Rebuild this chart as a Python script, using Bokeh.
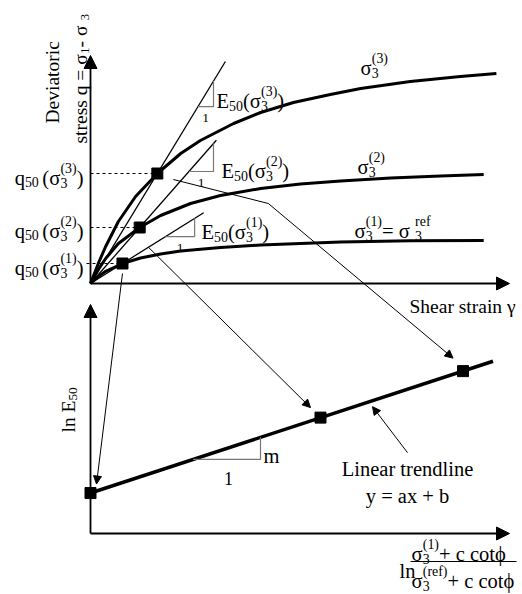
import math
import numpy as np
from bokeh.plotting import figure
from bokeh.models import Range1d, ColumnDataSource, Arrow, NormalHead
from bokeh.core.properties import value, field
from bokeh.embed import file_html
from bokeh.resources import INLINE

# ---------------- data: upper panel (shear strain γ vs deviatoric stress q) ----------------
gamma_s3_3 = [0, 0.20, 0.37, 0.68, 1.10, 1.63, 2.20, 2.68, 3.49, 4.15, 4.95, 5.85, 6.59, 7.80, 9.02, 9.90]
q_s3_3 = [0, 10.5, 18.5, 31.0, 43.5, 55.0, 65.0, 71.5, 80.0, 85.5, 90.5, 94.5, 97.5, 101.0, 103.5, 105.0]
gamma_s3_2 = [0, 0.20, 0.37, 0.68, 1.20, 1.71, 2.44, 3.17, 4.15, 5.12, 6.10, 7.32, 8.54, 9.59]
q_s3_2 = [0, 7.3, 12.5, 20.0, 28.0, 34.0, 40.0, 44.0, 47.5, 49.75, 51.25, 52.75, 53.75, 54.5]
gamma_s3_1 = [0, 0.20, 0.37, 0.78, 1.22, 1.71, 2.20, 3.17, 4.15, 6.10, 7.80, 9.59]
q_s3_1 = [0, 3.65, 6.1, 10.0, 12.75, 14.75, 16.25, 18.0, 19.25, 20.75, 21.35, 21.5]
gamma_50 = [0.78, 1.20, 1.63]          # strain at 50 % of failure, σ3(1), σ3(2), σ3(3)
q_50 = [10.0, 28.0, 55.0]              # q50 for σ3(1), σ3(2), σ3(3)
tangent_gamma_end = [2.76, 3.07, 3.29] # extent of the secant (E50) lines
slope_tri_gamma = [(1.83, 2.54), (2.40, 3.00), (2.62, 3.00)]

# ---------------- data: lower panel (ln stress ratio vs ln E50) ----------------
ln_stress_ratio = [0.0, 0.92, 1.49]
trend_x_end = 1.61
slope_tri_x = (0.41, 0.68)

E50 = np.array(q_50) / np.array(gamma_50)
ln_E50 = np.log(E50)
a_fit, b_fit = np.polyfit(ln_stress_ratio, ln_E50, 1)

# ---------------- layout ----------------
W, H = 522, 594
TOP_X0, TOP_PY0, GX, QY = 90.0, 283.0, 41.0, 2.0
BOT_X0, BOT_PY0, LX, LY, LN_MIN = 90.0, 533.0, 250.0, 126.0, 2.23
FONT = "Liberation Serif"
FS = 20.5


def Y(py):
    return H - py


def top_px(g, q):
    return TOP_X0 + g * GX, TOP_PY0 - q * QY


def bot_px(x, y):
    return BOT_X0 + x * LX, BOT_PY0 - (y - LN_MIN) * LY


p = figure(width=W, height=H, x_range=Range1d(0, W), y_range=Range1d(0, H),
           x_axis_type=None, y_axis_type=None, toolbar_location=None,
           output_backend="svg", min_border=0)
p.outline_line_color = None
p.background_fill_color = "white"
p.border_fill_color = "white"
p.grid.visible = False
p.extra_x_ranges = {"top": Range1d(-TOP_X0 / GX, (W - TOP_X0) / GX),
                    "bot": Range1d(-BOT_X0 / LX, (W - BOT_X0) / LX)}
p.extra_y_ranges = {"top": Range1d(-(H - TOP_PY0) / QY, TOP_PY0 / QY),
                    "bot": Range1d(LN_MIN - (H - BOT_PY0) / LY, LN_MIN + BOT_PY0 / LY)}
TOP = dict(x_range_name="top", y_range_name="top")
BOT = dict(x_range_name="bot", y_range_name="bot")

# ---------------- axes (arrows) ----------------
def axis_arrow(x0, py0, x1, py1):
    p.add_layout(Arrow(end=NormalHead(size=13, fill_color="black", line_color="black", line_width=1),
                       x_start=x0, y_start=Y(py0), x_end=x1, y_end=Y(py1),
                       line_width=1.8, line_color="black"))

axis_arrow(TOP_X0, TOP_PY0, TOP_X0, 55)
axis_arrow(TOP_X0, TOP_PY0, 509, TOP_PY0)
axis_arrow(BOT_X0, BOT_PY0, BOT_X0, 304)
axis_arrow(BOT_X0, BOT_PY0, 509, BOT_PY0)

# ---------------- upper panel ----------------
for i in range(3):
    ge = tangent_gamma_end[i]
    p.line([0, ge], [0, E50[i] * ge], line_color="black", line_width=1.3, **TOP)
    g1, g2 = slope_tri_gamma[i]
    p.line([g1, g2, g2], [E50[i] * g1, E50[i] * g1, E50[i] * g2],
           line_color="#777777", line_width=1.2, **TOP)
    g_start = -4.0 / GX if i == 0 else 0.0
    p.line([g_start, gamma_50[i]], [q_50[i], q_50[i]], line_color="black",
           line_width=1.2, line_dash="3 3", **TOP)

for gs, qs in [(gamma_s3_3, q_s3_3), (gamma_s3_2, q_s3_2), (gamma_s3_1, q_s3_1)]:
    p.line(gs, qs, line_color="black", line_width=3, line_join="round", **TOP)

p.scatter(gamma_50, q_50, marker="square", size=11, color="black", **TOP)

# ---------------- lower panel ----------------
p.line([0, trend_x_end], [b_fit, a_fit * trend_x_end + b_fit], line_color="black",
       line_width=3.5, **BOT)
x1, x2 = slope_tri_x
p.line([x1, x2, x2], [a_fit * x1 + b_fit, a_fit * x1 + b_fit, a_fit * x2 + b_fit],
       line_color="#777777", line_width=1.2, **BOT)
p.scatter(ln_stress_ratio, list(ln_E50), marker="square", size=11, color="black", **BOT)

# ---------------- connectors ----------------
def conn(points):
    xs = [pt[0] for pt in points]
    ys = [Y(pt[1]) for pt in points]
    if len(points) > 2:
        p.line(xs[:-1], ys[:-1], line_color="black", line_width=1)
    p.add_layout(Arrow(end=NormalHead(size=8, fill_color="black", line_color="black", line_width=1),
                       x_start=xs[-2], y_start=ys[-2], x_end=xs[-1], y_end=ys[-1],
                       line_width=1, line_color="black"))

t_sq = [top_px(g, q) for g, q in zip(gamma_50, q_50)]
b_sq = [bot_px(x, y) for x, y in zip(ln_stress_ratio, ln_E50)]
conn([(t_sq[0][0], t_sq[0][1] + 10), (b_sq[0][0] + 6, b_sq[0][1] - 9)])
conn([(t_sq[1][0] + 9, t_sq[1][1] + 20), (b_sq[1][0] - 10, b_sq[1][1] - 10)])
conn([(t_sq[2][0] + 16, t_sq[2][1] + 6), (t_sq[2][0] + 111, t_sq[2][1] + 30),
      (b_sq[2][0] - 10, b_sq[2][1] - 13)])
tl_x = 1.128
tl_px = bot_px(tl_x, a_fit * tl_x + b_fit)
conn([(tl_px[0] + 35, tl_px[1] + 52), (tl_px[0], tl_px[1] + 6)])

# fraction bar
p.line([410, 516], [Y(561), Y(561)], line_color="black", line_width=1.2)

# ---------------- texts ----------------
WID = {' ': .25, '(': .333, ')': .333, 'E': .611, 'q': .5, 'σ': .55, '=': .564, '+': .564,
       '-': .333, 'c': .444, 'o': .5, 't': .278, 'ϕ': .6, 'l': .278, 'n': .5, 'r': .333,
       'e': .444, 'f': .333, 'm': .778, 'a': .444, 'x': .5, 'b': .5, 'y': .5, 'S': .556,
       'h': .5, 's': .389, 'i': .278, 'γ': .45, 'L': .611, 'd': .5, 'D': .722, 'v': .5}


def text_w(s, size):
    return sum(WID.get(c, .5) for c in s) * size


TX = dict(x=[], y=[], text=[], size=[], angle=[])


def put(x, y, t, size, angle):
    TX["x"].append(x); TX["y"].append(y); TX["text"].append(t)
    TX["size"].append("%.1fpx" % size); TX["angle"].append(angle)


def rich(x0, py, segs, size=FS, align="left", angle=0.0, ratio=0.68):
    small = size * ratio

    def seg_w(s):
        if s[0] == "n":
            return text_w(s[1], size)
        if s[0] in ("sub", "sup"):
            return text_w(s[1], small)
        return max(text_w(s[1], small), text_w(s[2], small))

    total = sum(seg_w(s) for s in segs)
    adv = {"left": 0.0, "center": -total / 2, "right": -total}[align]
    ux, uy = math.cos(angle), math.sin(angle)
    vx, vy = -math.sin(angle), math.cos(angle)
    bx, by = x0, Y(py)
    for s in segs:
        ox, oy = bx + ux * adv, by + uy * adv
        k = s[0]
        dn, up = -0.25 * size, 0.42 * size
        if k == "n":
            put(ox, oy, s[1], size, angle)
        elif k == "sub":
            put(ox + vx * dn, oy + vy * dn, s[1], small, angle)
        elif k == "sup":
            put(ox + vx * up, oy + vy * up, s[1], small, angle)
        else:
            put(ox + vx * dn, oy + vy * dn, s[1], small, angle)
            put(ox + vx * up, oy + vy * up, s[2], small, angle)
        adv += seg_w(s)


def e50_label(x, py, k):
    rich(x, py, [("n", "E"), ("sub", "50"), ("n", "(σ"), ("ss", "3", "(%d)" % k), ("n", ")")])


def q50_label(py, k):
    rich(83, py, [("n", "q"), ("sub", " 50"), ("n", "(σ"), ("ss", "3", "(%d)" % k), ("n", ")")],
         align="right")


e50_label(216, 100, 3)
e50_label(221, 170, 2)
e50_label(201, 231, 1)
q50_label(177, 3)
q50_label(230, 2)
q50_label(267, 1)

rich(360, 67, [("n", "σ"), ("ss", "3", "(3)")])
rich(357, 166, [("n", "σ"), ("ss", "3", "(2)")])
rich(354, 230, [("n", "σ"), ("ss", "3", "(1)"), ("n", " = σ"), ("ss", "3", "ref")])
rich(409, 306, [("n", "Shear strain γ")], size=19.5)

rich(52, 123, [("n", "Deviatoric")], size=19.5, angle=math.pi / 2)
rich(80, 143, [("n", "stress q = σ"), ("sub", "1"), ("n", " - σ"), ("sub", "3")],
     size=19.5, angle=math.pi / 2)
rich(68, 432, [("n", "ln E"), ("sub", "50")], size=19.5, angle=math.pi / 2)

# small "1" labels of the slope triangles
for i in range(3):
    g1, g2 = slope_tri_gamma[i]
    lx0, lpy = top_px(g1, E50[i] * g1)
    lx1, _ = top_px(g2, E50[i] * g1)
    rich((lx0 + lx1) / 2, lpy + 11, [("n", "1")], size=13.5, align="center")

rich(263, 455, [("n", "m")])
rich(228, 478, [("n", "1")], size=18, align="center")
rich(407, 468, [("n", "Linear trendline")], align="center")
rich(407, 495, [("n", "y = ax + b")], align="center")

rich(399, 570, [("n", "ln")])
rich(411, 553, [("n", "σ"), ("ss", "3", "(1)"), ("n", "  + c cotϕ")])
rich(411, 580, [("n", "σ"), ("ss", "3", "(ref)"), ("n", "+ c cotϕ")])

src = ColumnDataSource(TX)
p.text(x="x", y="y", text="text", angle="angle", source=src,
       text_font=value(FONT), text_font_size=field("size"),
       text_baseline="alphabetic", text_align="left", text_color="black")

open("out.html", "w").write(file_html(p, INLINE))
